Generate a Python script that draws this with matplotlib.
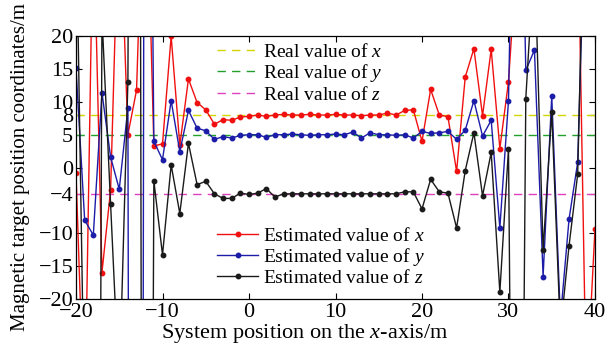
import matplotlib
matplotlib.use("Agg")
import matplotlib.pyplot as plt

# ---- data ----
positions = list(range(-20, 41))

real_x = 8
real_y = 5
real_z = -4

est_x = [-0.9, -40, 40, -16, -3.4, 43, 5.0, 11.8, 53, 3.3,
         3.6, 20, 3.4, 13.5, 9.9, 8.8, 6.6, 7.3, 7.2, 7.7,
         7.8, 8.0, 7.8, 8.0, 8.1, 8.0, 8.0, 8.1, 8.0, 8.0,
         8.1, 8.0, 8.0, 7.9, 8.0, 8.0, 8.3, 8.0, 8.7, 8.8,
         4.0, 11.9, 8.0, 7.75, -0.6, 13.8, 18.1, 7.9, 18.0, 2.9,
         13.1, 33, 60, 60, 60, 60, 60, 60, 40, -35,
         -9.3]

est_y = [15.1, -8.0, -10.3, 11.4, 1.6, -3.3, 9.1, -600, 150, 4.0,
         1.2, 10.2, 2.4, 8.7, 6.0, 5.6, 4.3, 4.7, 4.5, 4.9,
         5.0, 5.0, 4.6, 5.0, 5.0, 5.1, 5.0, 4.9, 5.0, 5.0,
         5.1, 5.0, 5.4, 4.5, 5.3, 5.0, 5.0, 4.9, 5.0, 4.5,
         5.5, 5.2, 5.3, 5.5, 4.3, 5.7, 10.2, 4.8, 7.2, -9.2,
         10.2, 80, 14.8, 17.9, -16.6, 10.9, -23, -7.85, 0.8, 46,
         40]

est_z = [40, -40, -300, 23, -5.6, -34, 13.1, 300, -300, -2.0,
         -13.3, 0.4, -7.0, 3.7, -2.6, -2.1, -4.0, -4.7, -4.7, -3.9,
         -4.1, -3.9, -3.2, -4.5, -4.0, -4.0, -4.0, -4.0, -4.0, -4.0,
         -4.0, -4.0, -4.0, -4.0, -4.0, -4.0, -4.0, -4.0, -3.7, -3.7,
         -6.3, -1.8, -3.7, -3.9, -9.2, -0.45, 5.3, -4.3, 2.3, -19.0,
         2.9, -150, 10.5, 33, -12.6, 8.5, -25, -11.9, -1.0, 54,
         50]

xticks = [-20, -10, 0, 10, 20, 30, 40]
yticks = [-20, -15, -10, -4, 0, 5, 8, 10, 15, 20]

# ---- style ----
plt.rcParams["font.family"] = "Liberation Serif"
plt.rcParams["mathtext.fontset"] = "custom"
plt.rcParams["mathtext.rm"] = "Liberation Serif"
plt.rcParams["mathtext.it"] = "Liberation Serif:italic"
plt.rcParams["font.size"] = 14

fig = plt.figure(figsize=(6.10, 3.52), dpi=100)
ax = fig.add_axes([0.1246, 0.151, 0.8508, 0.746])

dash = (0, (6, 4.5))
l1, = ax.plot([positions[0], positions[-1]], [real_x, real_x], color="#d4d400",
              lw=1.0, ls=dash, label="Real value of $x$")
l2, = ax.plot([positions[0], positions[-1]], [real_y, real_y], color="#22a02a",
              lw=1.0, ls=dash, label="Real value of $y$")
l3, = ax.plot([positions[0], positions[-1]], [real_z, real_z], color="#e040c0",
              lw=1.0, ls=dash, label="Real value of $z$")

e1, = ax.plot(positions, est_x, color="#f01010", lw=1.0, marker="o", ms=3.2,
              label="Estimated value of $x$")
e2, = ax.plot(positions, est_y, color="#1c1ca8", lw=1.0, marker="o", ms=3.2,
              label="Estimated value of $y$")
e3, = ax.plot(positions, est_z, color="#1a1a1a", lw=1.0, marker="o", ms=3.2,
              label="Estimated value of $z$")

ax.set_xlim(-20, 40)
ax.set_ylim(-20, 20)
ax.set_xticks(xticks)
ax.set_yticks(yticks)
ax.tick_params(direction="in", top=True, right=True, length=4, labelsize=16)
ax.tick_params(axis="x", pad=3)
ax.tick_params(axis="y", pad=2)
for s in ax.spines.values():
    s.set_linewidth(0.9)

ax.set_xlabel("System position on the $x$-axis/m", fontsize=16, labelpad=0)
ax.xaxis.label.set_x(0.441)
ax.set_ylabel("Magnetic target position coordinates/m", fontsize=15, labelpad=6)

leg1 = ax.legend(handles=[l1, l2, l3], loc="upper left", bbox_to_anchor=(0.272, 0.975),
                 frameon=False, borderpad=0, borderaxespad=0, handlelength=2.1,
                 handletextpad=0.25, labelspacing=0.07, fontsize=14)
ax.add_artist(leg1)
ax.legend(handles=[e1, e2, e3], loc="upper left", bbox_to_anchor=(0.272, 0.275),
          frameon=False, borderpad=0, borderaxespad=0, handlelength=2.1,
          handletextpad=0.25, labelspacing=0.05, numpoints=1, fontsize=14)

fig.savefig("out.png", dpi=100)
